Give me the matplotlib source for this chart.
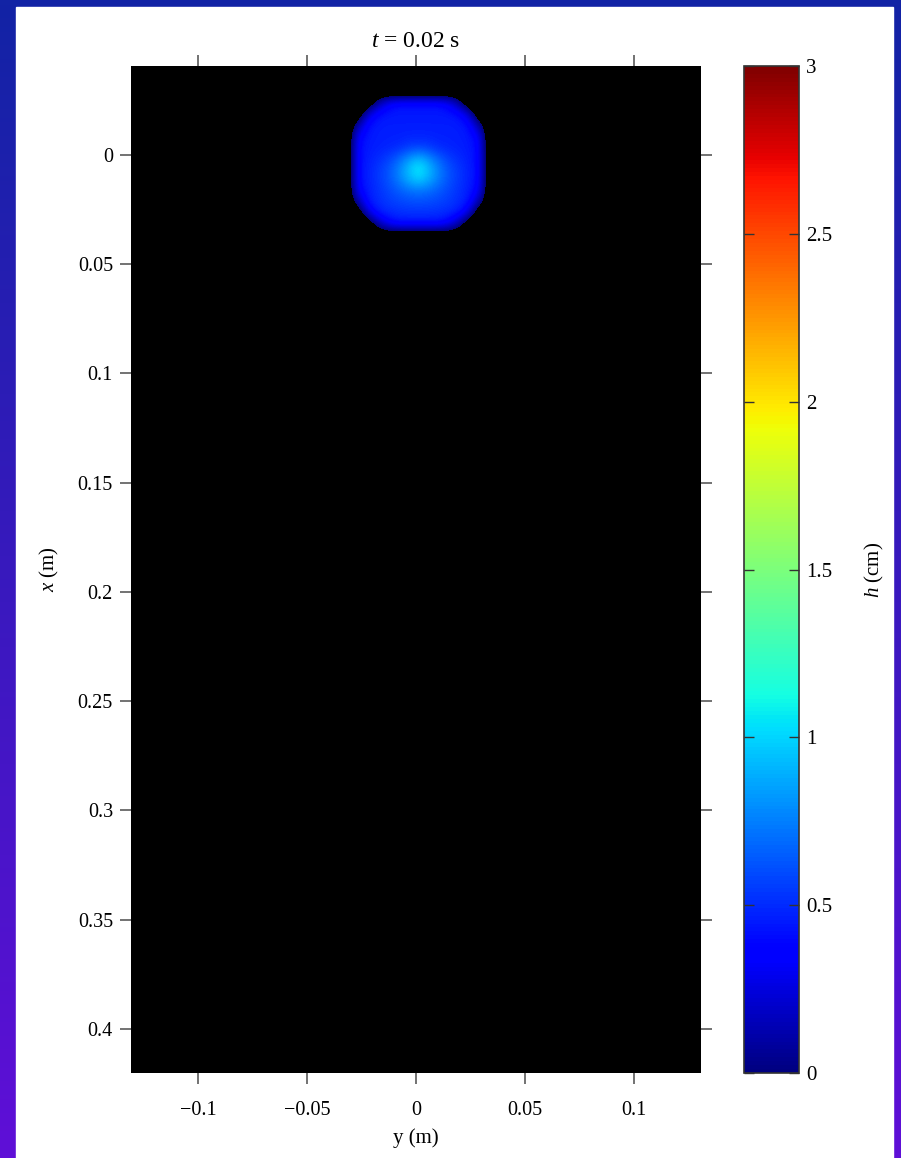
import numpy as np
import matplotlib
matplotlib.use("Agg")
import matplotlib.pyplot as plt
from matplotlib.patches import Rectangle
from matplotlib.colors import ListedColormap, Normalize
from matplotlib.cm import ScalarMappable

# ---------------- data ----------------
title_time = 0.02
nan = np.nan
# grid coordinates (m)
grid_y = np.linspace(-0.031, 0.0334, 15)   # horizontal axis "y (m)"
grid_x = np.linspace(-0.0285, 0.0415, 15)  # vertical axis "x (m)"
# water depth h (cm); NaN = dry
h_vals = np.array([
    [nan]*15,
    [nan, nan, nan, 0.12, 0.35, 0.42, 0.42, 0.42, 0.42, 0.42, 0.35, 0.12, nan, nan, nan],
    [nan, nan, 0.25, 0.42, 0.45, 0.45, 0.45, 0.45, 0.45, 0.45, 0.45, 0.42, 0.25, nan, nan],
    [nan, 0.12, 0.42, 0.46, 0.46, 0.46, 0.46, 0.46, 0.46, 0.46, 0.46, 0.46, 0.42, 0.12, nan],
    [nan, 0.35, 0.45, 0.46, 0.47, 0.47, 0.48, 0.48, 0.48, 0.47, 0.47, 0.46, 0.45, 0.35, nan],
    [nan, 0.40, 0.45, 0.47, 0.48, 0.50, 0.55, 0.58, 0.55, 0.50, 0.48, 0.47, 0.45, 0.40, nan],
    [nan, 0.40, 0.46, 0.50, 0.56, 0.66, 0.80, 0.90, 0.80, 0.66, 0.56, 0.50, 0.46, 0.40, nan],
    [nan, 0.40, 0.47, 0.54, 0.62, 0.76, 0.94, 1.10, 0.94, 0.76, 0.62, 0.54, 0.47, 0.40, nan],
    [nan, 0.40, 0.47, 0.54, 0.62, 0.74, 0.88, 0.98, 0.88, 0.74, 0.62, 0.54, 0.47, 0.40, nan],
    [nan, 0.35, 0.46, 0.52, 0.58, 0.64, 0.70, 0.72, 0.70, 0.64, 0.58, 0.52, 0.46, 0.35, nan],
    [nan, 0.12, 0.45, 0.50, 0.55, 0.58, 0.60, 0.61, 0.60, 0.58, 0.55, 0.50, 0.45, 0.12, nan],
    [nan, nan, 0.25, 0.46, 0.49, 0.51, 0.52, 0.52, 0.52, 0.51, 0.49, 0.46, 0.25, nan, nan],
    [nan, nan, nan, 0.12, 0.35, 0.43, 0.43, 0.43, 0.43, 0.43, 0.35, 0.12, nan, nan, nan],
    [nan]*15,
    [nan]*15,
])
h_min, h_max = 0.0, 3.0
xticks_h = [-0.1, -0.05, 0, 0.05, 0.1]
xtick_labels = ["\u22120.1", "\u22120.05", "0", "0.05", "0.1"]
yticks_v = [0, 0.05, 0.1, 0.15, 0.2, 0.25, 0.3, 0.35, 0.4]
ytick_labels = ["0", "0.05", "0.1", "0.15", "0.2", "0.25", "0.3", "0.35", "0.4"]
cbar_ticks = [0, 0.5, 1, 1.5, 2, 2.5, 3]
cbar_labels = ["0", "0.5", "1", "1.5", "2", "2.5", "3"]
hlim = (-0.1307, 0.1307)
vlim = (0.4202, -0.0407)

# ---------------- figure ----------------
W, H = 901, 1158
plt.rcParams['font.family'] = ['Liberation Serif', 'DejaVu Serif']
plt.rcParams['mathtext.fontset'] = 'custom'
plt.rcParams['mathtext.it'] = 'Liberation Serif:italic'
plt.rcParams['mathtext.rm'] = 'Liberation Serif'
fig = plt.figure(figsize=(W/100, H/100), dpi=100)

# background gradient border
bg = fig.add_axes([0, 0, 1, 1], zorder=-10)
grad = np.linspace(0, 1, 256)[:, None, None]
top_c = np.array([18, 35, 165]) / 255
bot_c = np.array([95, 15, 215]) / 255
img = top_c * (1 - grad) + bot_c * grad
bg.imshow(np.repeat(img, 2, axis=1), aspect='auto', extent=(0, 1, 0, 1), origin='upper')
bg.add_patch(Rectangle((16/W, 0), (893-16)/W, (H-7)/H, color='white', transform=bg.transAxes))
bg.set_xlim(0, 1); bg.set_ylim(0, 1)
bg.axis('off')

def px(l, t, r, b):
    return [l/W, 1-b/H, (r-l)/W, (b-t)/H]

ax = fig.add_axes(px(131, 66, 701, 1073))
ax.set_facecolor('black')

# drawing colormap: black for dry (below 0), jet for 0..3
dry_level = -0.22
jet = plt.get_cmap('jet')
n_jet = 512
n_dry = int(round(n_jet * (h_min - dry_level) / (h_max - h_min)))
draw_colors = np.vstack([np.tile([0, 0, 0, 1.0], (n_dry, 1)),
                         jet(np.linspace(0, 1, n_jet))])
draw_cmap = ListedColormap(draw_colors)

dy = grid_y[1]-grid_y[0]; dx = grid_x[1]-grid_x[0]
extent = (grid_y[0]-dy/2, grid_y[-1]+dy/2, grid_x[-1]+dx/2, grid_x[0]-dx/2)
h_draw = np.where(np.isnan(h_vals), dry_level, h_vals)
ax.imshow(h_draw, cmap=draw_cmap, vmin=dry_level, vmax=h_max, extent=extent,
          origin='upper', interpolation='bicubic', interpolation_stage='data',
          aspect='auto')
ax.set_xlim(*hlim)
ax.set_ylim(*vlim)
ax.set_xticks(xticks_h, xtick_labels)
ax.set_yticks(yticks_v, ytick_labels)
ax.tick_params(direction='out', length=8, width=1.2, color='#5a5a5a',
               top=True, right=True, labelsize=14.5)
ax.tick_params(axis='y', pad=5)
ax.tick_params(axis='x', pad=12)
for s in ax.spines.values():
    s.set_visible(False)
ax.set_title(r"$t$ = 0.02 s", fontsize=17, pad=14)
ax.set_xlabel("y (m)", fontsize=15, labelpad=6)
ax.set_ylabel(r"$x$ (m)", fontsize=15, labelpad=12)

cax = fig.add_axes(px(744, 66, 799, 1073))
sm = ScalarMappable(norm=Normalize(h_min, h_max), cmap=jet)
cb = fig.colorbar(sm, cax=cax)
cb.set_ticks(cbar_ticks, labels=cbar_labels)
cb.ax.tick_params(direction='in', length=7, width=1, color='#333333',
                  left=True, right=True, labelsize=15, pad=5)
cb.outline.set_edgecolor('#333333')
cb.outline.set_linewidth(1.2)
cb.set_label(r"$h$ (cm)", fontsize=15, labelpad=22)

fig.savefig("out.png", dpi=100)
